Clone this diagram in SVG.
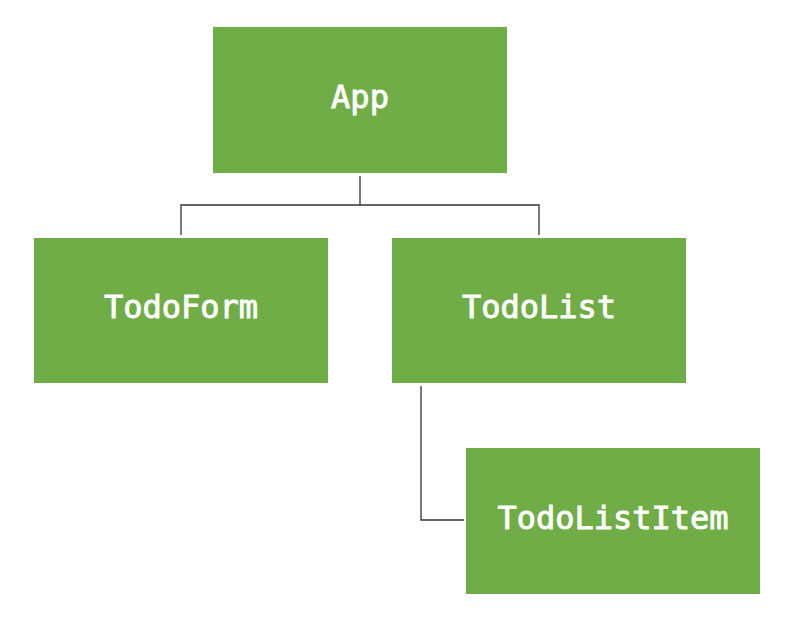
<svg xmlns="http://www.w3.org/2000/svg" width="799" height="631" viewBox="0 0 799 631">
<style>
.box{fill:#70AD47}
.lbl{font-family:"DejaVu Sans Mono",monospace;font-size:32px;fill:#fff;stroke:#fff;stroke-width:0.9;text-anchor:middle}
.con{fill:none;stroke:#333;stroke-width:1.3}
</style>
<rect width="799" height="631" fill="#fff"/>
<g id="connectors">
<path class="con" d="M360,176 V205 M181,235 V205 H539 V235"/>
<path class="con" d="M421,386 V520 H464"/>
</g>
<g id="app"><rect class="box" x="213" y="27" width="294" height="146"/><text class="lbl" x="360" y="108">App</text></g>
<g id="todoform"><rect class="box" x="34" y="238" width="294" height="145"/><text class="lbl" x="181" y="318">TodoForm</text></g>
<g id="todolist"><rect class="box" x="392" y="238" width="294" height="145"/><text class="lbl" x="539" y="318">TodoList</text></g>
<g id="todolistitem"><rect class="box" x="466" y="448" width="294" height="146"/><text class="lbl" x="613" y="529">TodoListItem</text></g>
</svg>
